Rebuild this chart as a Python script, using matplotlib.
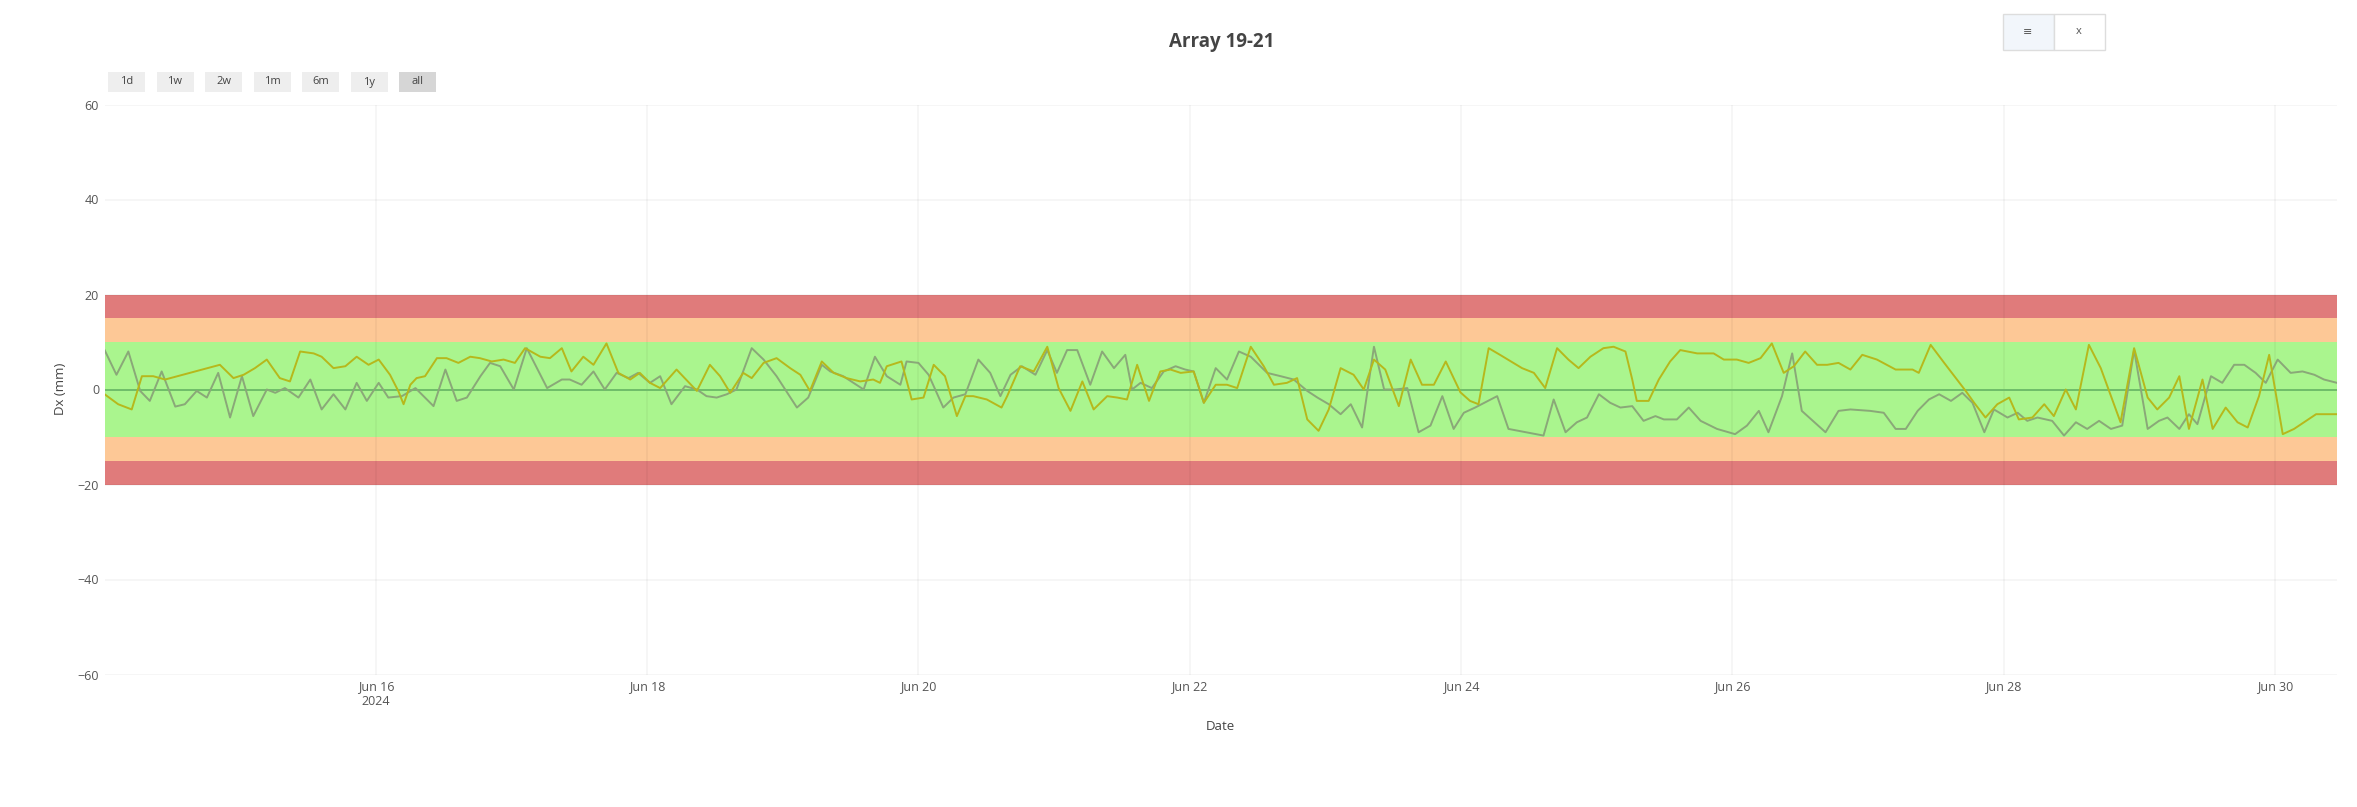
import matplotlib
matplotlib.use("Agg")
import matplotlib.pyplot as plt
from matplotlib.patches import Rectangle
import pandas as pd

plt.rcParams['font.family'] = ['Open Sans', 'DejaVu Sans']

# values (hours since 2024-06-14 00:00, displacement in mm)
start = pd.Timestamp("2024-06-14 00:00")

yellow_hours = [0.0, 2.4, 4.8, 6.6, 8.6, 10.7, 20.4, 22.8, 24.6, 26.6, 28.7, 31.0, 32.8, 34.6, 37.0,
                38.4, 40.5, 42.6, 44.6, 46.7, 48.5, 50.5, 52.0, 52.9, 54.1, 55.2, 56.7, 58.8, 60.5,
                62.6, 64.7, 66.4, 68.5, 70.6, 72.6, 74.4, 77.1, 78.8, 80.9, 82.6, 84.7, 86.5, 88.8,
                90.9, 93.0, 94.7, 96.5, 98.3, 101.2, 104.8, 107.1, 108.9, 110.7, 113.0, 114.5, 116.6,
                118.9, 121.3, 123.1, 124.8, 126.9, 129.0, 131.3, 133.7, 136.0, 137.2, 138.4, 141.0,
                142.8, 144.9, 146.7, 148.7, 150.8, 152.3, 153.7, 156.1, 158.7, 159.7, 162.0, 164.4,
                166.8, 168.8, 170.9, 173.0, 175.0, 177.4, 179.2, 180.9, 182.7, 184.8, 186.8, 188.6,
                190.4, 192.7, 194.5, 196.6, 198.6, 200.4, 202.8, 205.1, 206.9, 209.2, 211.0, 212.8,
                214.8, 216.6, 218.7, 221.0, 222.8, 224.6, 226.6, 229.0, 231.1, 233.1, 235.2, 237.3,
                239.9, 241.6, 243.1, 244.9, 246.9, 250.8, 252.9, 254.9, 257.0, 259.0, 260.8, 262.9,
                265.2, 267.0, 269.1, 270.3, 271.1, 273.2, 275.0, 277.0, 278.8, 281.8, 284.7, 286.5,
                288.8, 290.9, 293.0, 295.0, 297.1, 298.9, 300.9, 303.0, 304.8, 306.8, 308.9, 311.0,
                313.6, 316.9, 319.9, 321.0, 323.1, 325.5, 329.3, 330.8, 332.8, 334.9, 337.0, 338.7,
                341.1, 343.2, 344.9, 347.0, 348.8, 351.1, 353.2, 356.7, 359.1, 361.5, 363.2, 365.3,
                367.1, 368.8, 371.2, 373.0, 375.3, 377.4, 379.2, 381.2, 383.0, 385.4, 387.4, 391.3,
                395.0]
yellow_dx = [-1.0, -3.1, -4.2, 2.8, 2.8, 2.1, 5.2, 2.4, 3.1, 4.5, 6.3, 2.4, 1.7, 8.0, 7.6,
             6.9, 4.5, 4.9, 6.9, 5.2, 6.3, 3.1, -0.4, -3.1, 1.0, 2.4, 2.8, 6.6, 6.6,
             5.6, 6.9, 6.6, 5.9, 6.3, 5.6, 8.7, 6.9, 6.6, 8.7, 3.8, 6.9, 5.2, 9.7,
             3.5, 2.1, 3.5, 1.4, 0.3, 4.2, -0.3, 5.2, 2.8, -0.7, 3.5, 2.4, 5.6,
             6.6, 4.5, 3.1, -0.3, 5.9, 3.5, 2.4, 1.7, 2.1, 1.4, 4.9, 5.9,
             -2.1, -1.7, 5.2, 2.8, -5.6, -1.4, -1.4, -2.1, -3.8, -1.4, 4.9, 3.8,
             9.0, 0.3, -4.5, 1.7, -4.2, -1.4, -1.7, -2.1, 5.2, -2.4, 3.8, 4.2,
             3.5, 3.8, -2.8, 1.0, 1.0, 0.3, 9.0, 4.9, 1.0, 1.4, 2.4, -6.3,
             -8.7, -4.2, 4.5, 3.1, 0.0, 6.3, 4.2, -3.5, 6.3, 1.0, 1.0, 5.9,
             -0.6, -2.4, -3.1, 8.7, 7.3, 4.5, 3.5, 0.3, 8.7, 6.3, 4.5, 6.9,
             8.7, 9.0, 8.0, 2.1, -2.4, -2.4, 2.1, 5.9, 8.3, 7.6, 7.6, 6.3,
             6.3, 5.6, 6.6, 9.7, 3.5, 4.9, 8.0, 5.2, 5.2, 5.6, 4.2, 7.3,
             6.3, 4.2, 4.2, 3.5, 9.4, 5.6, -0.3, -2.8, -5.9, -3.1, -1.7, -6.3,
             -5.9, -3.1, -5.6, 0.0, -4.2, 9.4, 4.5, -6.9, 8.7, -1.7, -4.2, -1.7,
             2.8, -8.3, 2.1, -8.3, -3.8, -6.9, -8.0, -1.4, 7.3, -9.4, -8.3, -5.2,
             -5.2]

gray_hours = [0.0, 2.1, 4.2, 6.3, 8.0, 10.1, 12.5, 14.2, 16.3, 18.1, 20.1, 22.2, 24.3, 26.3, 28.7,
              30.2, 31.9, 34.3, 36.4, 38.4, 40.5, 42.6, 44.6, 46.4, 48.5, 50.2, 52.6, 55.0, 58.2,
              60.3, 62.3, 64.1, 66.5, 68.2, 70.0, 72.4, 74.7, 78.3, 80.9, 82.3, 84.4, 86.5, 88.5,
              90.6, 92.7, 94.4, 96.5, 98.3, 100.3, 102.7, 104.8, 106.5, 108.3, 110.1, 111.8, 114.5,
              116.6, 118.9, 122.5, 124.5, 126.9, 128.4, 130.7, 134.3, 136.3, 138.4, 140.8, 141.9,
              144.0, 145.8, 148.4, 150.2, 152.3, 154.6, 156.7, 158.5, 160.3, 162.3, 164.7, 166.8,
              168.5, 170.3, 172.1, 174.4, 176.5, 178.6, 180.6, 181.8, 183.3, 185.3, 187.4, 189.5,
              191.2, 192.7, 194.5, 196.6, 198.6, 200.7, 202.8, 205.7, 208.1, 210.4, 212.8, 214.6,
              216.6, 218.7, 220.5, 222.5, 224.6, 226.4, 228.4, 230.5, 232.5, 234.6, 236.7, 238.7,
              240.5, 242.5, 246.4, 248.4, 254.6, 256.4, 258.5, 260.5, 262.3, 264.4, 266.4, 268.2,
              270.3, 272.3, 274.4, 275.9, 278.2, 280.3, 282.4, 285.3, 288.5, 290.6, 292.7, 294.4,
              296.8, 298.6, 300.3, 304.5, 306.8, 308.9, 312.4, 314.8, 316.9, 318.7, 320.8, 322.8,
              324.6, 326.7, 328.7, 330.5, 332.6, 334.3, 336.7, 338.5, 340.2, 342.0, 344.6, 346.7,
              348.8, 350.8, 352.9, 355.0, 357.0, 359.1, 361.5, 363.5, 365.0, 367.1, 368.8, 370.3,
              372.7, 374.7, 376.8, 378.6, 380.6, 382.4, 384.5, 386.8, 388.9, 391.0, 392.7, 395.0]
gray_dx = [8.3, 3.1, 8.0, -0.3, -2.4, 3.8, -3.6, -3.1, -0.3, -1.7, 3.5, -5.9, 2.8, -5.6, 0.0,
           -0.7, 0.3, -1.7, 2.1, -4.2, -1.0, -4.2, 1.4, -2.4, 1.4, -1.7, -1.4, 0.3, -3.5,
           4.2, -2.4, -1.7, 2.8, 5.6, 4.9, 0.0, 8.7, 0.3, 2.1, 2.1, 1.0, 3.8, 0.0,
           3.5, 2.4, 3.5, 1.4, 2.8, -3.1, 0.7, 0.0, -1.4, -1.7, -1.0, 0.0, 8.7,
           6.3, 2.8, -3.8, -1.7, 5.2, 3.8, 2.8, 0.0, 6.9, 2.8, 1.0, 5.9,
           5.6, 3.1, -3.8, -1.7, -1.0, 6.3, 3.5, -1.4, 3.1, 4.9, 3.1, 8.3,
           3.5, 8.3, 8.3, 1.0, 8.0, 4.5, 7.3, 0.0, 1.4, 0.3, 3.8, 4.9,
           4.2, 3.8, -2.8, 4.5, 2.1, 8.0, 6.9, 3.5, 2.8, 2.1, -0.3, -1.7,
           -3.1, -5.2, -3.1, -8.0, 9.0, 0.0, 0.0, 0.3, -9.0, -7.6, -1.4, -8.3,
           -4.9, -3.8, -1.4, -8.3, -9.7, -2.1, -9.0, -6.9, -5.9, -1.0, -2.8, -3.8,
           -3.5, -6.6, -5.6, -6.3, -6.3, -3.8, -6.6, -8.3, -9.4, -7.6, -4.5, -9.0,
           -1.4, 7.6, -4.5, -9.0, -4.5, -4.2, -4.5, -4.9, -8.3, -8.3, -4.5, -2.1,
           -1.0, -2.4, -0.7, -2.8, -9.0, -4.2, -5.9, -4.9, -6.6, -5.9, -6.6, -9.7,
           -6.9, -8.3, -6.6, -8.3, -7.6, 8.3, -8.3, -6.6, -5.9, -8.3, -5.2, -7.3,
           2.8, 1.4, 5.2, 5.2, 3.5, 1.4, 6.3, 3.5, 3.8, 3.1, 2.1, 1.4]

# alarm bands (low, high, colour)
bands = [(15, 20, '#e07b7b'), (10, 15, '#fdc896'), (-10, 10, '#aaf58e'),
         (-15, -10, '#fdc896'), (-20, -15, '#e07b7b')]

tick_days = ["2024-06-16", "2024-06-18", "2024-06-20", "2024-06-22",
             "2024-06-24", "2024-06-26", "2024-06-28", "2024-06-30"]
tick_labels = ["Jun 16\n2024", "Jun 18", "Jun 20", "Jun 22", "Jun 24", "Jun 26", "Jun 28", "Jun 30"]
y_ticks = [60, 40, 20, 0, -20, -40, -60]
range_buttons = ["1d", "1w", "2w", "1m", "6m", "1y", "all"]

W, H = 2357, 807
fig = plt.figure(figsize=(W / 100, H / 100), dpi=100)
ax = fig.add_axes([104.6 / W, 1 - 674.5 / H, (2337 - 104.6) / W, 570 / H])

yellow_t = start + pd.to_timedelta(yellow_hours, unit="h")
gray_t = start + pd.to_timedelta(gray_hours, unit="h")

for lo, hi, c in bands:
    ax.axhspan(lo, hi, color=c, lw=0, zorder=1)

ticks = pd.to_datetime(tick_days)
for t in ticks:
    ax.axvline(t, color='black', alpha=0.045, lw=1.2, zorder=1.5)
for y in y_ticks:
    ax.axhline(y, color='black', alpha=0.045, lw=1.2, zorder=1.5)
ax.axhline(0, color='#6fbd6a', lw=1.4, zorder=2)

ax.plot(gray_t, gray_dx, color='#8aa878', lw=1.4, zorder=3)
ax.plot(yellow_t, yellow_dx, color='#b6b81c', lw=1.4, zorder=4)

ax.set_xlim(start, start + pd.Timedelta(hours=395))
ax.set_ylim(-60, 60)
ax.set_xticks(ticks)
ax.set_xticklabels(tick_labels)
ax.set_yticks(y_ticks)
ax.tick_params(length=0, labelsize=9, labelcolor='#555555', pad=4)
for s in ax.spines.values():
    s.set_visible(False)

fig.text(1222 / W, 1 - 42 / H, "Array 19-21", ha='center', va='center',
         fontsize=13.5, weight='bold', color='#444444')
fig.text(1220 / W, 1 - 726 / H, "Date", ha='center', va='center', fontsize=9.5, color='#444444')
fig.text(60 / W, 1 - 389 / H, "Dx (mm)", ha='center', va='center', rotation=90,
         fontsize=9.5, color='#444444')

# range selector buttons
bx = 108
for lab in range_buttons:
    fc = '#d6d6d6' if lab == "all" else '#eeeeee'
    fig.add_artist(Rectangle((bx / W, 1 - 92 / H), 37 / W, 20 / H, transform=fig.transFigure,
                             fc=fc, ec='none'))
    fig.text((bx + 18.5) / W, 1 - 82 / H, lab, ha='center', va='center', fontsize=8, color='#444444')
    bx += 48.5

# small modebar-like box
fig.add_artist(Rectangle((2003 / W, 1 - 50 / H), 51 / W, 36 / H, transform=fig.transFigure,
                         fc='#f2f6fb', ec='#dddddd', lw=1))
fig.add_artist(Rectangle((2054 / W, 1 - 50 / H), 51 / W, 36 / H, transform=fig.transFigure,
                         fc='white', ec='#dddddd', lw=1))
fig.text(2028 / W, 1 - 32 / H, "\u2261", ha='center', va='center', fontsize=8, color='#555555')
fig.text(2079 / W, 1 - 32 / H, "x", ha='center', va='center', fontsize=8, color='#555555')

fig.savefig("out.png", dpi=100, facecolor='white')
